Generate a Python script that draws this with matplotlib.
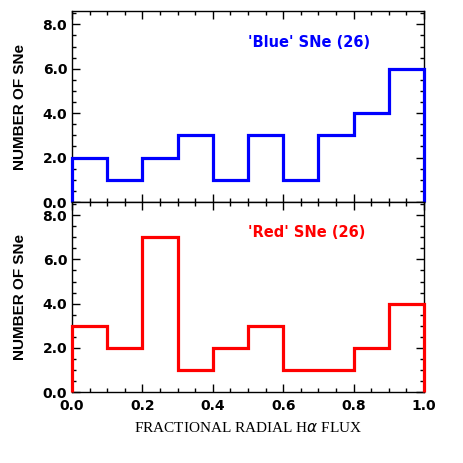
import matplotlib
matplotlib.use("Agg")
import matplotlib.pyplot as plt
from matplotlib.ticker import MultipleLocator
import numpy as np

edges = np.linspace(0.0, 1.0, 11)
blue_counts = [2, 1, 2, 3, 1, 3, 1, 3, 4, 6]
red_counts = [3, 2, 7, 1, 2, 3, 1, 1, 2, 4]
blue_label = "'Blue' SNe (26)"
red_label = "'Red' SNe (26)"

fig = plt.figure(figsize=(4.63, 4.63), dpi=100)
W, H = 463.0, 463.0
ax1 = fig.add_axes([72 / W, 1 - 202 / H, 352 / W, 191 / H])
ax2 = fig.add_axes([72 / W, 1 - 392 / H, 352 / W, 190 / H])

tick_font = dict(family="DejaVu Sans", weight="bold", size=10)

for ax, counts, color, label in [(ax1, blue_counts, "blue", blue_label),
                                 (ax2, red_counts, "red", red_label)]:
    ax.stairs(counts, edges, color=color, linewidth=2.3, baseline=0, clip_on=False, zorder=3)
    ax.set_xlim(0, 1)
    ax.set_ylim(0, 8.6)
    ax.xaxis.set_major_locator(MultipleLocator(0.2))
    ax.xaxis.set_minor_locator(MultipleLocator(0.05))
    ax.yaxis.set_major_locator(MultipleLocator(2))
    ax.yaxis.set_minor_locator(MultipleLocator(0.5))
    ax.tick_params(which="both", direction="in", top=True, right=True, width=1)
    ax.tick_params(which="major", length=6)
    ax.tick_params(which="minor", length=3)
    for s in ax.spines.values():
        s.set_linewidth(1)
    ax.set_yticks([0, 2, 4, 6, 8])
    ax.set_yticklabels([f"{v:.1f}" for v in [0, 2, 4, 6, 8]], fontdict=tick_font)
    ax.set_ylabel("NUMBER OF SNe", fontdict=dict(family="Liberation Sans", weight="bold", size=11),
                  labelpad=11)
    ax.text(0.5, 7.2, label, color=color, fontdict=dict(family="DejaVu Sans", weight="bold", size=10.5),
            ha="left", va="center")

ax1.set_xticklabels([])
ax2.set_xticks([0, 0.2, 0.4, 0.6, 0.8, 1.0])
ax2.set_xticklabels([f"{v:.1f}" for v in [0, 0.2, 0.4, 0.6, 0.8, 1.0]], fontdict=tick_font)
ax2.tick_params(axis="x", pad=5)
ax2.set_xlabel(r"FRACTIONAL RADIAL H$\alpha$ FLUX", fontdict=dict(family="Liberation Serif", size=11),
               labelpad=6)

fig.savefig("out.png", dpi=100)
